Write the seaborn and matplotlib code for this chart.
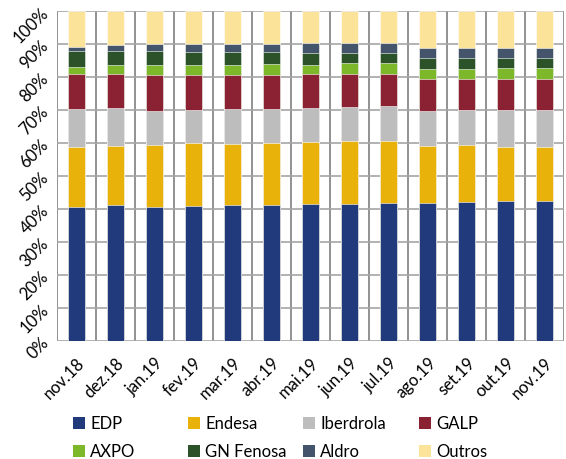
import numpy as np
import pandas as pd
import matplotlib.pyplot as plt
import seaborn as sns
from matplotlib.patches import Patch

# Dados (quota de mercado, %)
meses = ['nov.18', 'dez.18', 'jan.19', 'fev.19', 'mar.19', 'abr.19', 'mai.19',
         'jun.19', 'jul.19', 'ago.19', 'set.19', 'out.19', 'nov.19']
edp = [40.6, 41.3, 40.6, 41.0, 41.3, 41.3, 41.6, 41.6, 41.9, 41.9, 42.2, 42.5, 42.5]
endesa = [18.2, 17.8, 18.9, 18.9, 18.5, 18.8, 18.7, 19.0, 18.7, 17.2, 17.2, 16.3, 16.3]
iberdrola = [11.5, 11.5, 10.2, 10.1, 10.5, 10.2, 10.3, 10.3, 10.6, 10.6, 10.6, 11.2, 11.2]
galp = [10.6, 10.3, 10.9, 10.6, 10.3, 10.3, 10.3, 10.0, 9.7, 9.7, 9.4, 9.4, 9.4]
axpo = [2.2, 2.6, 2.9, 2.9, 2.9, 3.2, 2.8, 3.2, 3.2, 3.1, 3.1, 3.4, 3.4]
gn_fenosa = [4.8, 4.3, 4.3, 4.1, 4.1, 3.8, 3.7, 3.3, 3.3, 3.4, 3.4, 3.1, 3.1]
aldro = [1.2, 1.9, 2.3, 2.5, 2.5, 2.5, 3.0, 3.0, 3.0, 2.8, 2.8, 2.8, 2.8]

empresas = ['EDP', 'Endesa', 'Iberdrola', 'GALP', 'AXPO', 'GN Fenosa', 'Aldro', 'Outros']
cores = ['#203a7c', '#e9b20a', '#bdbdbd', '#8b2234', '#7cb82a', '#2b5228', '#44546a', '#fbe39a']

df = pd.DataFrame({'mes': meses, 'EDP': edp, 'Endesa': endesa, 'Iberdrola': iberdrola,
                   'GALP': galp, 'AXPO': axpo, 'GN Fenosa': gn_fenosa, 'Aldro': aldro})
df['Outros'] = 100 - df[empresas[:-1]].sum(axis=1)

# Somas acumuladas para empilhar
cum = df[empresas].cumsum(axis=1) / 100
cum['mes'] = meses

plt.rcParams['font.family'] = ['Lato', 'DejaVu Sans']
fig, ax = plt.subplots(figsize=(5.66, 4.59), dpi=100)
fig.subplots_adjust(left=0.101, right=0.997, top=0.976, bottom=0.257)

# Desenhar do topo para a base (sobreposição)
for emp, cor in reversed(list(zip(empresas, cores))):
    sns.barplot(data=cum, x='mes', y=emp, order=meses, color=cor, width=0.44,
                saturation=1, edgecolor='white', linewidth=0.4, ax=ax, zorder=3)

ax.set_xlim(-0.5, len(meses) - 0.5)
ax.set_ylim(0, 1)
ax.set_yticks(np.arange(0, 1.01, 0.1))
ax.set_yticklabels([f'{int(round(v * 100))}%' for v in np.arange(0, 1.01, 0.1)],
                   rotation=45, fontsize=12)
ax.set_xticks(range(len(meses)))
ax.set_xticklabels(meses, rotation=45, ha='right', rotation_mode='anchor', fontsize=12)
ax.set_xticks(np.arange(-0.5, len(meses), 1), minor=True)
ax.tick_params(axis='both', which='both', length=0, pad=4)
ax.tick_params(axis='x', pad=10)
ax.grid(axis='y', color='#a6a6a6', linewidth=1.2, zorder=0)
ax.grid(axis='x', which='minor', color='#7f7f7f', linewidth=1.2, zorder=0)
ax.set_axisbelow(True)
for s in ax.spines.values():
    s.set_visible(False)
ax.set_xlabel('')
ax.set_ylabel('')

# Legenda em 4 colunas de largura igual
col_x = [0.117, 0.32, 0.523, 0.728]
for j, x in enumerate(col_x):
    idx = [j, j + 4]
    handles = [Patch(facecolor=cores[i], edgecolor='none') for i in idx]
    fig.legend(handles, [empresas[i] for i in idx], loc='lower left',
               bbox_to_anchor=(x, -0.017), frameon=False, fontsize=12,
               handlelength=0.75, handleheight=0.75, handletextpad=0.3,
               labelspacing=0.75, borderaxespad=0, borderpad=0.4)

fig.savefig('out.png', dpi=100)
